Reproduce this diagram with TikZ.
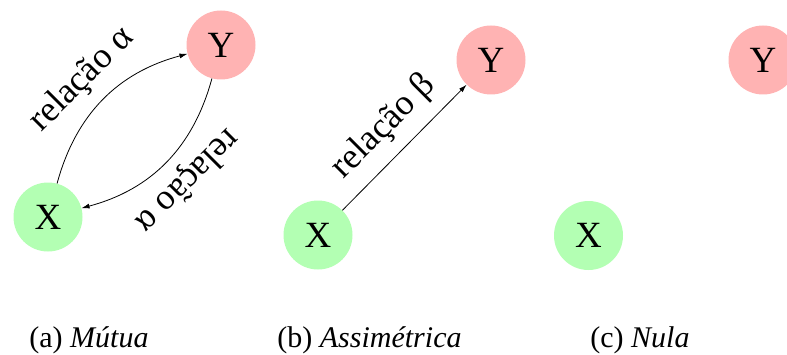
\documentclass[tikz,border=0pt]{standalone}
\usepackage{fontspec}
\setmainfont{Liberation Serif}
\usetikzlibrary{arrows.meta}
\definecolor{xgreen}{RGB}{179,255,179}
\definecolor{ypink}{RGB}{255,179,179}
\begin{document}
\begin{tikzpicture}[x=1pt,y=1pt,
  vx/.style={circle,fill=xgreen,minimum size=69pt,inner sep=0pt,font=\fontsize{37}{40}\selectfont},
  vy/.style={circle,fill=ypink,minimum size=69pt,inner sep=0pt,font=\fontsize{37}{40}\selectfont},
  rel/.style={-{Latex[length=8pt,width=5pt]},line width=0.8pt},
  lab/.style={font=\fontsize{36}{40}\selectfont,inner sep=0pt},
  captxt/.style={font=\fontsize{30}{34}\selectfont,anchor=base,inner sep=0pt}]
\useasboundingbox (0,0) rectangle (787,354);
% panel a
\node[vx] (Xa) at (48,137) {X};
\node[vy] (Ya) at (221,309) {Y};
\draw[rel] (Xa) to[bend left=30] (Ya);
\draw[rel] (Ya) to[bend left=30] (Xa);
\node[lab,rotate=45] (La) at (82,274) {relação α};
\node[lab,rotate=225] (Lb) at (187,174) {relação α};
% panel b
\node[vx] (Xb) at (318,119) {X};
\node[vy] (Yb) at (491,294) {Y};
\draw[rel] (Xb) -- (Yb);
\node[lab,rotate=45] (Lc) at (384,227) {relação β};
% panel c
\node[vx] (Xc) at (588.5,118.5) {X};
\node[vy] (Yc) at (763,294) {Y};
% captions
\node[captxt] (Ca) at (89,7) {(a) \textit{Mútua}};
\node[captxt] (Cb) at (369.5,7) {(b) \textit{Assimétrica}};
\node[captxt] (Cc) at (640,7) {(c) \textit{Nula}};
\end{tikzpicture}
\end{document}
